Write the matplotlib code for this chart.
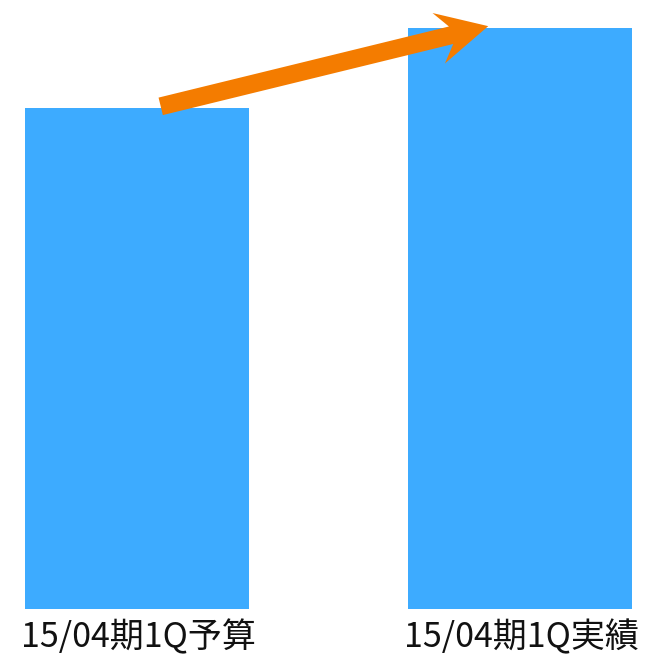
import matplotlib
matplotlib.use("Agg")
import matplotlib.pyplot as plt
from matplotlib.patches import FancyArrow
from matplotlib.transforms import IdentityTransform

plt.rcParams["font.family"] = ["Noto Sans CJK JP", "DejaVu Sans"]

categories = ["15/04期1Q予算", "15/04期1Q実績"]
values = [86.2, 100.0]

BAR_COLOR = "#3DABFF"
ARROW_COLOR = "#F47C00"

fig = plt.figure(figsize=(6.52, 6.55), dpi=100, facecolor="white")
ax = fig.add_axes([0, 46 / 655, 1, 609 / 655])
ax.set_xlim(-0.358, 1.346)
ax.set_ylim(0, 104.8)
ax.axis("off")

x = list(range(len(categories)))
ax.bar(x, values, width=0.586, color=BAR_COLOR)

for xi, label in zip(x, categories):
    ax.text(xi + 0.005, -6.6, label, ha="center", va="baseline", fontsize=24.5,
            color="#111111", clip_on=False)

# arrow from top of first bar to top of second, drawn in pixels so the head isn't skewed
fig.canvas.draw()
x0, y0 = ax.transData.transform((x[0] + 0.062, values[0] + 0.3))
x1, y1 = ax.transData.transform((x[1] - 0.082, values[1] + 0.3))
arrow = FancyArrow(x0, y0, x1 - x0, y1 - y0, width=18, head_width=52,
                   head_length=51, overhang=0.25, length_includes_head=True,
                   color=ARROW_COLOR, linewidth=0, transform=IdentityTransform())
fig.patches.append(arrow)

fig.savefig("out.png", dpi=100, facecolor="white")
